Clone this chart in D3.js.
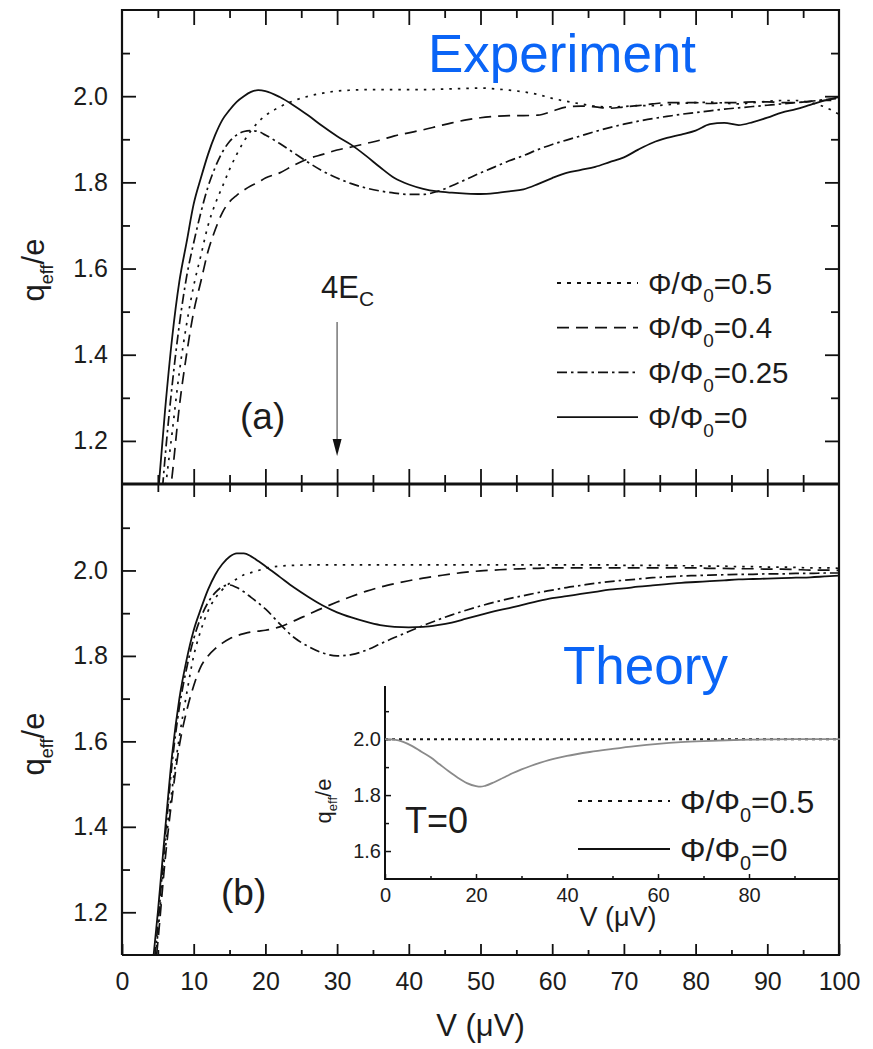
<!DOCTYPE html>
<html>
<head>
<meta charset="utf-8">
<title>q_eff vs V</title>
<script src="https://d3js.org/d3.v7.min.js"></script>
<style>
  body { margin: 0; background: #fff; }
  text { font-family: "Liberation Sans", Arial, sans-serif; fill: #1c1c1c; }
</style>
</head>
<body>
<svg id="fig" width="873" height="1049"></svg>
<script>
// ---- data ----
// (a) experiment
var expV = [5, 6, 7, 8, 9, 10, 11, 12, 13, 14, 15, 16, 17, 18, 19, 20, 22, 24, 26, 28, 30, 32, 34, 36, 38, 40, 42, 44, 46, 48, 50, 52, 54, 56, 58, 60, 62, 64, 66, 68, 70, 72, 74, 76, 78, 80, 82, 84, 86, 88, 90, 92, 94, 96, 98, 100];
var expPhi0 = [1.07, 1.27, 1.44, 1.57, 1.66, 1.75, 1.81, 1.865, 1.91, 1.945, 1.968, 1.987, 2.0, 2.01, 2.014, 2.012, 1.998, 1.978, 1.955, 1.93, 1.907, 1.887, 1.862, 1.835, 1.81, 1.795, 1.785, 1.779, 1.776, 1.774, 1.773, 1.775, 1.779, 1.784, 1.796, 1.81, 1.822, 1.829, 1.836, 1.847, 1.858, 1.876, 1.892, 1.903, 1.911, 1.92, 1.935, 1.938, 1.933, 1.94, 1.95, 1.962, 1.97, 1.98, 1.99, 1.998];
var expPhi025 = [0.95, 1.16, 1.33, 1.47, 1.58, 1.66, 1.73, 1.79, 1.835, 1.87, 1.895, 1.91, 1.918, 1.92, 1.918, 1.91, 1.89, 1.868, 1.846, 1.826, 1.81, 1.797, 1.787, 1.78, 1.775, 1.772, 1.772, 1.779, 1.792, 1.807, 1.822, 1.836, 1.85, 1.862, 1.876, 1.888, 1.898, 1.908, 1.918, 1.927, 1.935, 1.942, 1.948, 1.953, 1.958, 1.962, 1.966, 1.97, 1.973, 1.976, 1.979, 1.982, 1.985, 1.988, 1.992, 1.995];
var expPhi04 = [0.85, 0.98, 1.12, 1.28, 1.40, 1.50, 1.57, 1.64, 1.69, 1.73, 1.755, 1.77, 1.782, 1.792, 1.80, 1.81, 1.822, 1.84, 1.855, 1.865, 1.875, 1.882, 1.89, 1.898, 1.908, 1.915, 1.922, 1.93, 1.938, 1.945, 1.95, 1.953, 1.955, 1.955, 1.956, 1.965, 1.975, 1.977, 1.975, 1.972, 1.975, 1.978, 1.982, 1.985, 1.985, 1.985, 1.983, 1.985, 1.985, 1.987, 1.987, 1.985, 1.985, 1.988, 1.99, 1.99];
var expPhi05 = [0.9, 1.08, 1.22, 1.36, 1.47, 1.56, 1.63, 1.70, 1.75, 1.79, 1.83, 1.865, 1.895, 1.92, 1.94, 1.955, 1.975, 1.99, 2.0, 2.007, 2.012, 2.014, 2.015, 2.015, 2.015, 2.015, 2.015, 2.016, 2.017, 2.018, 2.019, 2.017, 2.014, 2.01, 2.004, 1.995, 1.988, 1.982, 1.977, 1.975, 1.976, 1.978, 1.978, 1.98, 1.983, 1.985, 1.986, 1.984, 1.982, 1.985, 1.988, 1.99, 1.99, 1.985, 1.975, 1.958];

// (b) theory
var thV = [4, 5, 6, 7, 8, 9, 10, 11, 12, 13, 14, 15, 16, 17, 18, 19, 20, 22, 24, 26, 28, 30, 32, 34, 36, 38, 40, 42, 44, 46, 48, 50, 52, 54, 56, 58, 60, 62, 64, 66, 68, 70, 72, 74, 76, 78, 80, 82, 84, 86, 88, 90, 92, 94, 96, 98, 100];
var thPhi0 = [1.03, 1.2, 1.39, 1.57, 1.70, 1.79, 1.86, 1.91, 1.955, 1.99, 2.015, 2.032, 2.04, 2.04, 2.033, 2.022, 2.01, 1.985, 1.96, 1.938, 1.918, 1.902, 1.89, 1.88, 1.872, 1.868, 1.867, 1.868, 1.872, 1.878, 1.887, 1.896, 1.905, 1.912, 1.92, 1.928, 1.935, 1.94, 1.945, 1.95, 1.955, 1.958, 1.962, 1.965, 1.968, 1.971, 1.973, 1.975, 1.977, 1.979, 1.98, 1.981, 1.982, 1.983, 1.984, 1.986, 1.988];
var thPhi025 = [1.0, 1.17, 1.37, 1.55, 1.68, 1.77, 1.84, 1.89, 1.925, 1.948, 1.962, 1.966, 1.96, 1.95, 1.937, 1.924, 1.91, 1.875, 1.843, 1.822, 1.807, 1.80, 1.803, 1.813, 1.828, 1.843, 1.857, 1.871, 1.884, 1.896, 1.907, 1.917, 1.926, 1.934, 1.941, 1.948, 1.954, 1.96, 1.965, 1.97, 1.974, 1.977, 1.98, 1.983, 1.985, 1.987, 1.988, 1.989, 1.99, 1.991, 1.991, 1.992, 1.992, 1.993, 1.993, 1.994, 1.994];
var thPhi04 = [0.97, 1.13, 1.32, 1.47, 1.59, 1.67, 1.73, 1.775, 1.80, 1.817, 1.83, 1.84, 1.847, 1.852, 1.856, 1.858, 1.86, 1.868, 1.882, 1.897, 1.912, 1.926, 1.939, 1.951, 1.961, 1.969, 1.976, 1.982, 1.987, 1.992, 1.996, 1.999, 2.001, 2.003, 2.004, 2.005, 2.006, 2.006, 2.006, 2.006, 2.006, 2.006, 2.006, 2.006, 2.006, 2.006, 2.006, 2.005, 2.005, 2.004, 2.004, 2.003, 2.003, 2.002, 2.001, 2.001, 2.0];
var thPhi05 = [0.98, 1.15, 1.34, 1.49, 1.61, 1.71, 1.80, 1.86, 1.905, 1.935, 1.955, 1.97, 1.98, 1.99, 1.995, 2.0, 2.005, 2.01, 2.012, 2.013, 2.013, 2.013, 2.013, 2.013, 2.013, 2.013, 2.013, 2.013, 2.013, 2.013, 2.013, 2.013, 2.013, 2.013, 2.013, 2.013, 2.013, 2.013, 2.013, 2.013, 2.013, 2.012, 2.012, 2.012, 2.012, 2.011, 2.011, 2.01, 2.01, 2.009, 2.009, 2.008, 2.008, 2.007, 2.006, 2.006, 2.005];

// inset, T=0
var insV = [0, 2, 4, 6, 8, 10, 12, 14, 16, 18, 20, 21, 22, 24, 26, 28, 30, 32, 34, 36, 38, 40, 42, 45, 50, 55, 60, 65, 70, 75, 80, 90, 100];
var insPhi0 = [2.0, 1.998, 1.99, 1.975, 1.955, 1.935, 1.91, 1.885, 1.862, 1.843, 1.832, 1.83, 1.833, 1.846, 1.862, 1.878, 1.892, 1.904, 1.915, 1.925, 1.933, 1.94, 1.946, 1.954, 1.965, 1.975, 1.983, 1.989, 1.993, 1.996, 1.998, 2.0, 2.0];
var insHalfV = [0, 100];
var insPhi05 = [2.0, 2.0];

// tick labels
var xTicks = [0, 10, 20, 30, 40, 50, 60, 70, 80, 90, 100];
var yTicks = [1.2, 1.4, 1.6, 1.8, 2.0];
var insXTicks = [0, 20, 40, 60, 80];
var insYTicks = [1.6, 1.8, 2.0];

var expLabels = ["\u03A6/\u03A6", "\u03A6/\u03A6", "\u03A6/\u03A6", "\u03A6/\u03A6"];
var expValues = ["=0.5", "=0.4", "=0.25", "=0"];

// ---- drawing ----
var svg = d3.select("#fig");
var L = 122, R = 839, T1 = 10, B1 = 484, T2 = 485, B2 = 955;

var x = d3.scaleLinear().domain([0, 100]).range([L, R]);
var yA = d3.scaleLinear().domain([1.1, 2.2]).range([B1, T1]);
var yB = d3.scaleLinear().domain([1.1, 2.2]).range([B2, T2]);
var xi = d3.scaleLinear().domain([0, 100]).range([385, 840]);
var yi = d3.scaleLinear().domain([1.5, 2.19]).range([879, 686]);

var dashes = { dot: "2.5,6", dash: "12,7", dashdot: "10,4,2.5,4", solid: null };

var defs = svg.append("defs");
defs.append("clipPath").attr("id", "clipA").append("rect")
  .attr("x", L).attr("y", T1).attr("width", R - L).attr("height", B1 - T1);
defs.append("clipPath").attr("id", "clipB").append("rect")
  .attr("x", L).attr("y", T2).attr("width", R - L).attr("height", B2 - T2);

function drawCurve(g, xs, ys, vs, qs, style, color, w) {
  var line = d3.line()
    .x(function (d) { return xs(d[0]); })
    .y(function (d) { return ys(d[1]); })
    .curve(d3.curveMonotoneX);
  return g.append("path")
    .datum(d3.zip(vs, qs))
    .attr("d", line)
    .attr("fill", "none")
    .attr("stroke", color || "#111")
    .attr("stroke-width", w || 1.7)
    .attr("stroke-dasharray", dashes[style]);
}

var minorX = d3.range(5, 100, 10);
var minorY = [1.3, 1.5, 1.7, 1.9, 2.1];

function styleAxis(g, w) {
  g.select(".domain").remove();
  g.selectAll(".tick line").attr("stroke", "#111").attr("stroke-width", w || 1.8);
}

// panel (a)
var gA = svg.append("g");
gA.append("g").attr("transform", "translate(" + L + ",0)")
  .call(d3.axisLeft(yA).tickValues(yTicks).tickSize(-14).tickPadding(14).tickFormat(d3.format(".1f")))
  .call(styleAxis);
gA.append("g").attr("transform", "translate(" + L + ",0)")
  .call(d3.axisLeft(yA).tickValues(minorY).tickSize(-8).tickFormat(""))
  .call(styleAxis);
gA.append("g").attr("transform", "translate(" + R + ",0)")
  .call(d3.axisRight(yA).tickValues(yTicks).tickSize(-14).tickFormat(""))
  .call(styleAxis);
gA.append("g").attr("transform", "translate(" + R + ",0)")
  .call(d3.axisRight(yA).tickValues(minorY).tickSize(-8).tickFormat(""))
  .call(styleAxis);
gA.append("g").attr("transform", "translate(0," + T1 + ")")
  .call(d3.axisTop(x).tickValues(xTicks.slice(1, 10)).tickSize(-15).tickFormat(""))
  .call(styleAxis);
gA.append("g").attr("transform", "translate(0," + T1 + ")")
  .call(d3.axisTop(x).tickValues(minorX).tickSize(-8).tickFormat(""))
  .call(styleAxis);
gA.append("g").attr("transform", "translate(0," + B1 + ")")
  .call(d3.axisBottom(x).tickValues(xTicks.slice(1, 10)).tickSize(-15).tickFormat(""))
  .call(styleAxis);
gA.append("g").attr("transform", "translate(0," + B1 + ")")
  .call(d3.axisBottom(x).tickValues(minorX).tickSize(-9).tickFormat(""))
  .call(styleAxis);

// panel (b)
var gB = svg.append("g");
gB.append("g").attr("transform", "translate(" + L + ",0)")
  .call(d3.axisLeft(yB).tickValues(yTicks).tickSize(-14).tickPadding(14).tickFormat(d3.format(".1f")))
  .call(styleAxis);
gB.append("g").attr("transform", "translate(" + L + ",0)")
  .call(d3.axisLeft(yB).tickValues(minorY).tickSize(-8).tickFormat(""))
  .call(styleAxis);
gB.append("g").attr("transform", "translate(0," + B1 + ")")
  .call(d3.axisTop(x).tickValues(xTicks.slice(1, 10)).tickSize(-13).tickFormat(""))
  .call(styleAxis);
gB.append("g").attr("transform", "translate(0," + B1 + ")")
  .call(d3.axisTop(x).tickValues(minorX).tickSize(-8).tickFormat(""))
  .call(styleAxis);
gB.append("g").attr("transform", "translate(0," + B2 + ")")
  .call(d3.axisBottom(x).tickValues(xTicks).tickSize(-11).tickPadding(17).tickFormat(d3.format("d")))
  .call(styleAxis);
gB.append("g").attr("transform", "translate(0," + B2 + ")")
  .call(d3.axisBottom(x).tickValues(minorX).tickSize(-5).tickFormat(""))
  .call(styleAxis);

svg.selectAll(".tick text").attr("font-size", 25).attr("fill", "#1c1c1c")
  .style("font-family", "'Liberation Sans', Arial, sans-serif");

// frames
var frame = svg.append("g").attr("stroke", "#111").attr("fill", "none");
frame.append("path").attr("stroke-width", 2.2)
  .attr("d", "M" + L + "," + B2 + "V" + T1 + "H" + R + "V" + B2 + "H" + L);
frame.append("line").attr("stroke-width", 3.2)
  .attr("x1", L).attr("x2", R).attr("y1", B1).attr("y2", B1);

// curves
var cA = svg.append("g").attr("clip-path", "url(#clipA)");
drawCurve(cA, x, yA, expV, expPhi05, "dot");
drawCurve(cA, x, yA, expV, expPhi04, "dash");
drawCurve(cA, x, yA, expV, expPhi025, "dashdot");
drawCurve(cA, x, yA, expV, expPhi0, "solid", "#111", 1.8);

var cB = svg.append("g").attr("clip-path", "url(#clipB)");
drawCurve(cB, x, yB, thV, thPhi05, "dot");
drawCurve(cB, x, yB, thV, thPhi04, "dash");
drawCurve(cB, x, yB, thV, thPhi025, "dashdot");
drawCurve(cB, x, yB, thV, thPhi0, "solid", "#111", 1.8);

// inset
var gI = svg.append("g");
gI.append("g").attr("transform", "translate(" + xi(0) + ",0)")
  .call(d3.axisLeft(yi).tickValues(insYTicks).tickSize(-6).tickPadding(4).tickFormat(d3.format(".1f")))
  .call(styleAxis, 1.5);
gI.append("g").attr("transform", "translate(" + xi(0) + ",0)")
  .call(d3.axisLeft(yi).tickValues([1.7, 1.9, 2.1]).tickSize(-4).tickFormat(""))
  .call(styleAxis, 1.5);
gI.append("g").attr("transform", "translate(0," + yi(1.5) + ")")
  .call(d3.axisBottom(xi).tickValues(insXTicks).tickSize(-5).tickPadding(9).tickFormat(d3.format("d")))
  .call(styleAxis, 1.5);
gI.append("g").attr("transform", "translate(0," + yi(1.5) + ")")
  .call(d3.axisBottom(xi).tickValues([10, 30, 50, 70, 90]).tickSize(-3).tickFormat(""))
  .call(styleAxis, 1.5);
gI.selectAll(".tick text").attr("font-size", 20).attr("fill", "#222");
gI.append("path").attr("fill", "none").attr("stroke", "#111").attr("stroke-width", 2)
  .attr("d", "M" + xi(0) + "," + yi(2.19) + "V" + yi(1.5) + "H" + xi(100));
drawCurve(gI, xi, yi, insHalfV, insPhi05, "dot", "#111", 2).attr("stroke-dasharray", "3,4");
drawCurve(gI, xi, yi, insV, insPhi0, "solid", "#8a8a8a", 1.8);

// axis titles
function qLabel(px, py, size, sub) {
  var t = svg.append("text")
    .attr("transform", "translate(" + px + "," + py + ") rotate(-90)")
    .attr("text-anchor", "middle")
    .attr("font-size", size);
  t.append("tspan").text("q");
  t.append("tspan").text("eff").attr("font-size", sub).attr("dy", size * 0.28);
  t.append("tspan").text("/e").attr("dy", -size * 0.28);
}
qLabel(44, 270, 31, 18);
qLabel(44, 744, 31, 18);
qLabel(331, 801, 22, 13);

svg.append("text").attr("x", x(50)).attr("y", 1036).attr("text-anchor", "middle")
  .attr("font-size", 31).text("V (\u03BCV)");
svg.append("text").attr("x", 618).attr("y", 926).attr("text-anchor", "middle")
  .attr("font-size", 27).text("V (\u03BCV)");

// big titles
svg.append("text").attr("x", 428).attr("y", 72).attr("font-size", 53)
  .style("fill", "#0a64f6").text("Experiment");
svg.append("text").attr("x", 563).attr("y", 684).attr("font-size", 53)
  .style("fill", "#0a64f6").text("Theory");

// panel marks
svg.append("text").attr("x", 240).attr("y", 429).attr("font-size", 37).text("(a)");
svg.append("text").attr("x", 221).attr("y", 905).attr("font-size", 37).text("(b)");
svg.append("text").attr("x", 405).attr("y", 833).attr("font-size", 36).text("T=0");

// 4E_C arrow
var ec = svg.append("text").attr("x", 321).attr("y", 298).attr("font-size", 31);
ec.append("tspan").text("4E");
ec.append("tspan").text("C").attr("font-size", 21).attr("dy", 8);
svg.append("line").attr("x1", x(30)).attr("x2", x(30)).attr("y1", 322).attr("y2", 442)
  .attr("stroke", "#777").attr("stroke-width", 1.5);
svg.append("path").attr("fill", "#111")
  .attr("d", "M" + (x(30) - 4.5) + ",439L" + (x(30) + 4.5) + ",439L" + x(30) + ",456Z");

// legends
function legendRow(x1, x2, yy, style, txt, val, size, sub) {
  svg.append("line").attr("x1", x1).attr("x2", x2).attr("y1", yy).attr("y2", yy)
    .attr("stroke", "#111").attr("stroke-width", 1.8)
    .attr("stroke-dasharray", style === "dot" ? "4,6" : dashes[style]);
  var t = svg.append("text").attr("x", x2 + 10).attr("y", yy + size * 0.36).attr("font-size", size);
  t.append("tspan").text(txt);
  t.append("tspan").text("0").attr("font-size", sub).attr("dy", size * 0.3);
  t.append("tspan").text(val).attr("dy", -size * 0.3);
}
var expStyles = ["dot", "dash", "dashdot", "solid"];
expStyles.forEach(function (s, i) {
  legendRow(557, 638, 283 + i * 44.7, s, expLabels[i], expValues[i], 29.5, 19);
});
legendRow(578, 670, 801, "dot", "\u03A6/\u03A6", "=0.5", 32, 20);
legendRow(578, 670, 849, "solid", "\u03A6/\u03A6", "=0", 32, 20);
</script>
</body>
</html>
